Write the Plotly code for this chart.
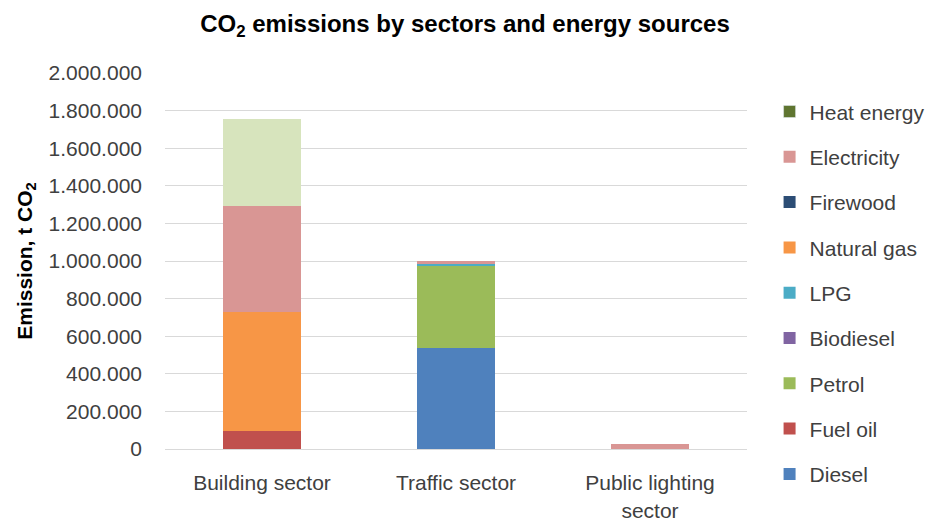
import plotly.graph_objects as go

categories = ["Building sector", "Traffic sector", "Public lighting<br>sector"]
sources = ["Diesel", "Fuel oil", "Petrol", "Biodiesel", "LPG", "Natural gas", "Firewood", "Electricity", "Heat energy"]
diesel = [0, 539000, 0]
fuel_oil = [94000, 0, 0]
petrol = [0, 436000, 0]
biodiesel = [0, 2000, 0]
lpg = [0, 6000, 0]
natural_gas = [633000, 0, 0]
firewood = [0, 0, 0]
electricity = [567000, 18000, 25000]
heat_energy = [463000, 0, 0]
values = [diesel, fuel_oil, petrol, biodiesel, lpg, natural_gas, firewood, electricity, heat_energy]
colors = ["#4f81bd", "#c0504d", "#9bbb59", "#8064a2", "#4bacc6", "#f79646", "#2c4d75", "#d99694", "#5f7530"]
heat_bar_color = "#d7e4bd"
y_ticks = list(range(0, 2000001, 200000))

FONT = "Liberation Sans"
fig = go.Figure()
n = len(sources)
for i, (name, vals, col) in enumerate(zip(sources, values, colors)):
    rank = n - i
    if name == "Heat energy":
        fig.add_trace(go.Bar(x=categories, y=vals, name=name, marker_color=heat_bar_color,
                             marker_line_width=0, showlegend=False, legendgroup=name, legendrank=rank))
        fig.add_trace(go.Bar(x=[categories[0]], y=[None], name=name, marker_color=col,
                             legendgroup=name, showlegend=True, legendrank=rank))
    else:
        fig.add_trace(go.Bar(x=categories, y=vals, name=name, marker_color=col,
                             marker_line_width=0, legendgroup=name, legendrank=rank))

fig.update_layout(
    barmode="stack",
    bargap=0.6,
    width=930, height=522,
    margin=dict(l=165, r=183, t=73, b=73),
    paper_bgcolor="white", plot_bgcolor="white",
    separators=",.",
    font=dict(family=FONT, size=20, color="#404040"),
    title=dict(text="<b>CO<sub>2</sub> emissions by sectors and energy sources</b>",
               x=0.5, xanchor="center", y=0.955, yanchor="middle",
               font=dict(family=FONT, size=24, color="#000000")),
    legend=dict(traceorder="grouped", tracegroupgap=15,
                xref="container", yref="container",
                x=0.8275, xanchor="left", y=0.825, yanchor="top", maxheight=1.0,
                font=dict(family=FONT, size=21, color="#404040"),
                itemwidth=30, bgcolor="rgba(0,0,0,0)"),
    showlegend=True,
)
fig.update_yaxes(range=[0, 2000000], tickvals=y_ticks, tickformat=",d", showgrid=True,
                 gridcolor="#d9d9d9", gridwidth=1, zeroline=False, showline=False,
                 automargin=False,
                 ticklabelstandoff=22, tickfont=dict(family=FONT, size=21, color="#404040"),
                 title=dict(text="<b>Emission, t CO<sub>2</sub></b>", standoff=10,
                            font=dict(family=FONT, size=21, color="#000000")))
fig.update_xaxes(showline=True, linecolor="#d9d9d9", linewidth=1, ticks="", ticklabelstandoff=15,
                 automargin=False,
                 tickfont=dict(family=FONT, size=21, color="#404040"))

fig.write_html("out.html")
